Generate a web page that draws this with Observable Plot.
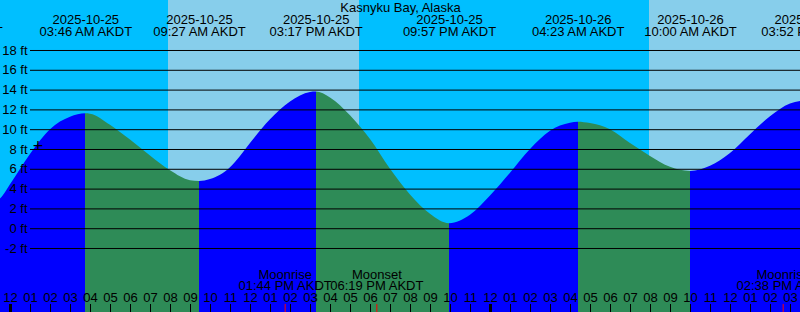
<!DOCTYPE html>
<html>
<head>
<meta charset="utf-8">
<script src="https://cdn.jsdelivr.net/npm/d3@7"></script>
<script src="https://cdn.jsdelivr.net/npm/@observablehq/plot@0.6"></script>
<style>
  html, body { margin: 0; padding: 0; background: #00BFFF; }
  svg { display: block; }
</style>
</head>
<body>
<div id="chart"></div>
<script>
// ---- data (time in hours after 2025-10-25 00:00 AKDT) ----
const title = "Kasnyku Bay, Alaska";

// tide extrema
const eventTime  = [-2.72, 3.767, 9.45, 15.283, 21.95, 28.383, 34.0, 39.867];
const eventLevel = [1.0, 11.6, 4.77, 13.8, 0.5, 10.76, 5.78, 13.0];
const eventDate  = ["2025-10-24", "2025-10-25", "2025-10-25", "2025-10-25", "2025-10-25", "2025-10-26", "2025-10-26", "2025-10-26"];
const eventClock = ["09:17 PM AKDT", "03:46 AM AKDT", "09:27 AM AKDT", "03:17 PM AKDT", "09:57 PM AKDT", "04:23 AM AKDT", "10:00 AM AKDT", "03:52 PM AKDT"];

// tide readings (ft)
const sampleTime  = [-0.5, 0, 1, 2, 3, 4, 5, 6, 7, 8, 9, 10, 10.5, 11, 11.5, 12, 13, 14, 15, 16, 17, 18, 19, 20, 21, 23, 24, 25, 26, 27, 28, 29, 30, 31, 32, 33, 35, 36, 37, 38, 39, 39.5];
const sampleLevel = [3.0, 4.45, 7.5, 10.0, 11.25, 11.57, 10.45, 8.95, 7.35, 5.85, 4.85, 4.97, 5.4, 6.15, 7.3, 8.6, 11.0, 12.8, 13.75, 13.2, 11.4, 9.0, 6.0, 3.4, 1.45, 1.35, 3.3, 5.6, 8.0, 9.85, 10.65, 10.62, 10.0, 8.6, 7.3, 6.2, 6.3, 7.6, 9.5, 11.3, 12.6, 12.85];

// daylight intervals (sunrise, sunset)
const sunrise = [7.9, 31.95];
const sunset  = [17.45, 41.4];

// moon events
const moonTime  = [13.733, 18.317, 38.633];
const moonName  = ["Moonrise", "Moonset", "Moonrise"];
const moonClock = ["01:44 PM AKDT", "06:19 PM AKDT", "02:38 PM AKDT"];

// current-time marker
const nowTime = 1.375;
const nowLevel = 8.3;

// y grid / labels
const ftTicks = [-2, 0, 2, 4, 6, 8, 10, 12, 14, 16, 18];
const hourTicks = d3.range(0, 40);
const hourLabel = h => String((h % 12) || 12).padStart(2, "0");

// colors
const nightColor = "#00BFFF", dayColor = "#87CEEB";
const risingColor = "#0000FF", fallingColor = "#2E8B57";

// ---- build tables ----
const tide = sampleTime.map((t, i) => ({t, v: sampleLevel[i]}))
  .concat(eventTime.map((t, i) => ({t, v: eventLevel[i]})))
  .sort((a, b) => a.t - b.t);
const events = eventTime.map((t, i) => ({t, v: eventLevel[i], date: eventDate[i], clock: eventClock[i]}));
const days = sunrise.map((s, i) => ({s, e: sunset[i]}));
const moons = moonTime.map((t, i) => ({t, name: moonName[i], clock: moonClock[i]}));

const xDomain = [-0.5, 39.5];
const yDomain = [-8.465, 23.05];
const font = "'Liberation Sans', Arial, Helvetica, sans-serif";
const mid = {lineAnchor: "middle", fill: "black"};

const chart = Plot.plot({
  width: 800,
  height: 312,
  margin: 0,
  x: {domain: xDomain, axis: null},
  y: {domain: yDomain, axis: null},
  style: {fontFamily: font, fontSize: "13px", background: nightColor, color: "black", overflow: "hidden"},
  marks: [
    Plot.rect(days, {x1: "s", x2: "e", fill: dayColor}),
    Plot.areaY(tide, {x: "t", y1: yDomain[0], y2: "v", fill: "url(#tideFill)", curve: "monotone-x"}),
    Plot.ruleY(ftTicks, {stroke: "black", strokeWidth: 1, insetLeft: 30}),
    Plot.text(ftTicks, {y: d => d, text: d => `${d} ft`, frameAnchor: "left", textAnchor: "end", dx: 27, ...mid}),
    Plot.text([title], {text: d => d, frameAnchor: "top", dy: 7, ...mid}),
    Plot.text(events, {x: "t", text: "date", frameAnchor: "top", dy: 19.5, ...mid}),
    Plot.text(events, {x: "t", text: "clock", frameAnchor: "top", dy: 31.5, ...mid}),
    Plot.text(moons, {x: "t", text: "name", frameAnchor: "bottom", dy: -38, ...mid}),
    Plot.text(moons, {x: "t", text: "clock", frameAnchor: "bottom", dy: -26.3, ...mid}),
    Plot.text(hourTicks, {x: d => d, text: hourLabel, frameAnchor: "bottom", dy: -14.5, ...mid}),
    Plot.ruleX(hourTicks, {x: d => d, stroke: "black", strokeWidth: d => d % 24 === 0 ? 3 : 1, insetTop: 304}),
    Plot.ruleX(moons, {x: "t", stroke: "red", strokeWidth: 1, insetTop: 304}),
    Plot.text([{t: nowTime, v: nowLevel}], {x: "t", y: "v", text: () => "+", fontSize: 18, ...mid})
  ]
});

// gradient that colours the tide rising (blue) / falling (green)
const xs = chart.scale("x");
const NS = "http://www.w3.org/2000/svg";
const defs = document.createElementNS(NS, "defs");
const grad = document.createElementNS(NS, "linearGradient");
grad.setAttribute("id", "tideFill");
grad.setAttribute("gradientUnits", "userSpaceOnUse");
grad.setAttribute("x1", 0); grad.setAttribute("x2", 800);
grad.setAttribute("y1", 0); grad.setAttribute("y2", 0);
const clamp = v => Math.max(0, Math.min(1, v));
function addStop(off, color) {
  const s = document.createElementNS(NS, "stop");
  s.setAttribute("offset", clamp(off));
  s.setAttribute("stop-color", color);
  grad.appendChild(s);
}
addStop(0, risingColor);
for (let i = 0; i < events.length - 1; i++) {
  const color = events[i + 1].v > events[i].v ? risingColor : fallingColor;
  addStop(xs.apply(events[i].t) / 800, color);
  addStop(xs.apply(events[i + 1].t) / 800, color);
}
addStop(1, risingColor);
defs.appendChild(grad);
chart.insertBefore(defs, chart.firstChild);

document.getElementById("chart").appendChild(chart);
</script>
</body>
</html>
